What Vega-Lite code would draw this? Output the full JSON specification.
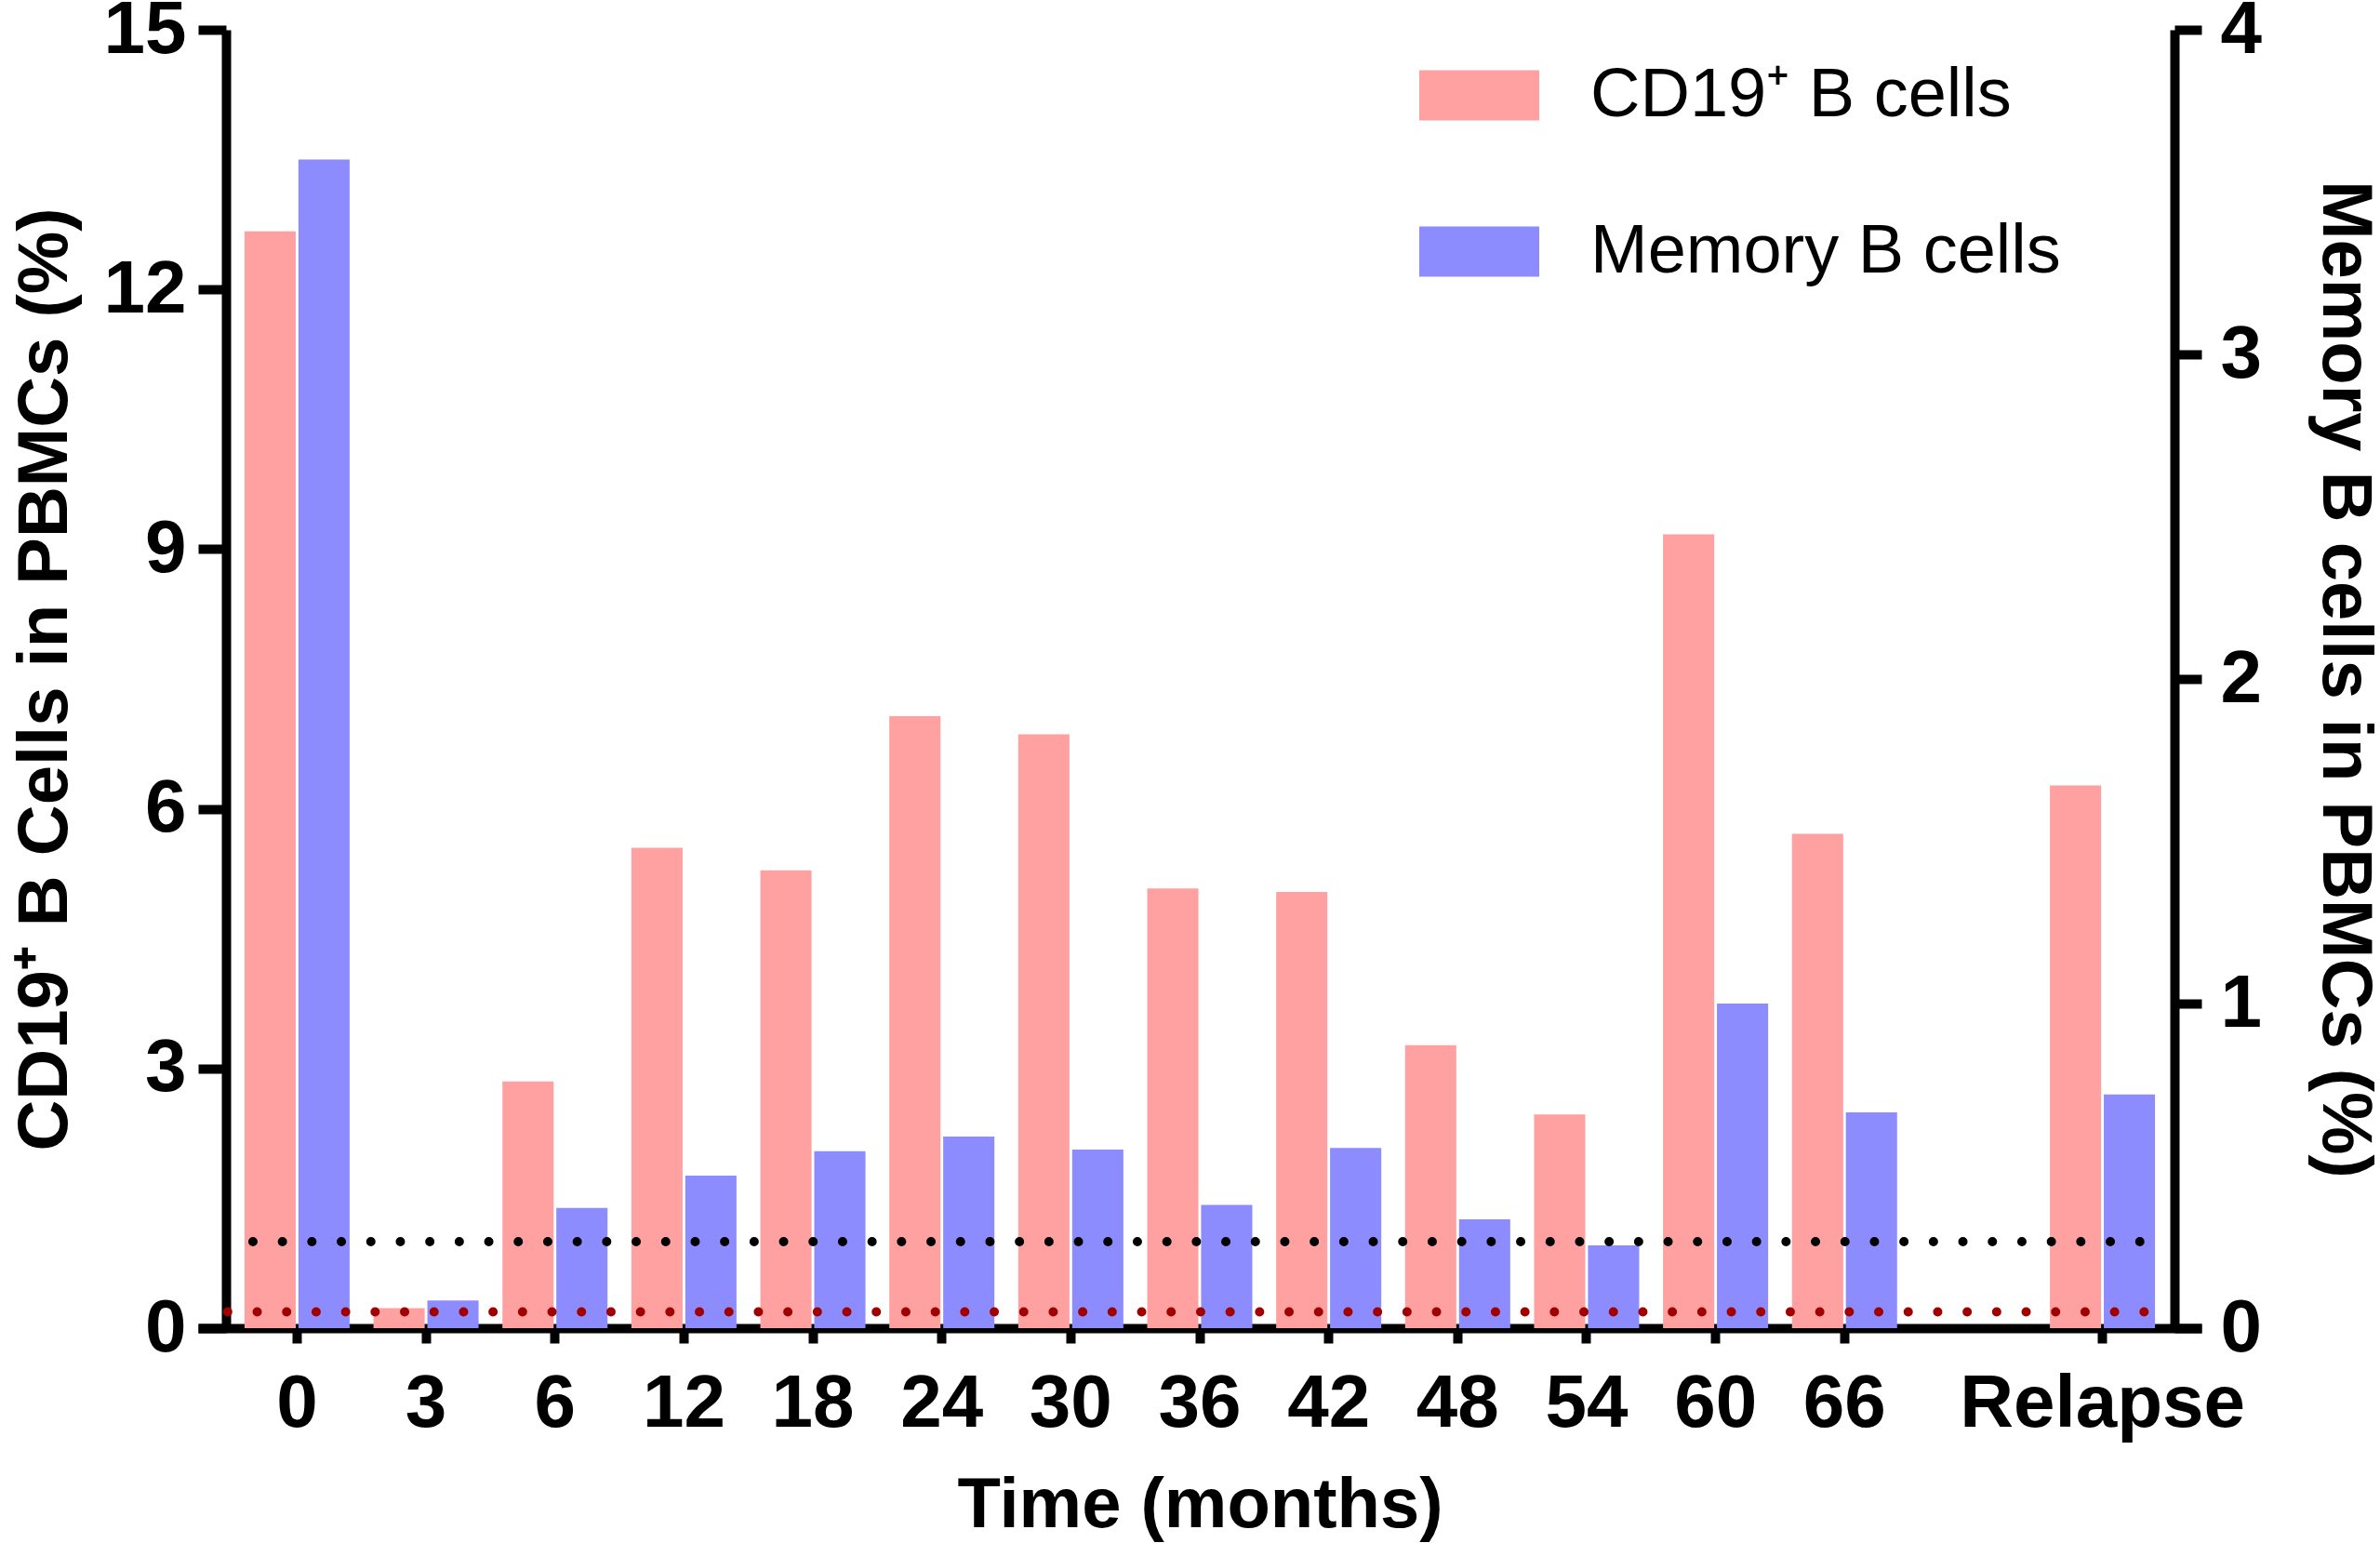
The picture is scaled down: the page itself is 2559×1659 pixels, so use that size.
{
  "$schema": "https://vega.github.io/schema/vega-lite/v6.json",
  "width": 2154,
  "height": 1396,
  "autosize": "none",
  "padding": {"left": 213, "top": 32, "right": 192, "bottom": 231},
  "background": "white",
  "data": {
    "values": [
      {"time": "0", "series": "CD19⁺ B cells", "value": 12.67},
      {"time": "3", "series": "CD19⁺ B cells", "value": 0.23},
      {"time": "6", "series": "CD19⁺ B cells", "value": 2.85},
      {"time": "12", "series": "CD19⁺ B cells", "value": 5.55},
      {"time": "18", "series": "CD19⁺ B cells", "value": 5.29},
      {"time": "24", "series": "CD19⁺ B cells", "value": 7.07},
      {"time": "30", "series": "CD19⁺ B cells", "value": 6.86},
      {"time": "36", "series": "CD19⁺ B cells", "value": 5.08},
      {"time": "42", "series": "CD19⁺ B cells", "value": 5.04},
      {"time": "48", "series": "CD19⁺ B cells", "value": 3.27},
      {"time": "54", "series": "CD19⁺ B cells", "value": 2.47},
      {"time": "60", "series": "CD19⁺ B cells", "value": 9.17},
      {"time": "66", "series": "CD19⁺ B cells", "value": 5.71},
      {"time": "Relapse", "series": "CD19⁺ B cells", "value": 6.27},
      {"time": "0", "series": "Memory B cells", "value": 3.6},
      {"time": "3", "series": "Memory B cells", "value": 0.085},
      {"time": "6", "series": "Memory B cells", "value": 0.37},
      {"time": "12", "series": "Memory B cells", "value": 0.47},
      {"time": "18", "series": "Memory B cells", "value": 0.545},
      {"time": "24", "series": "Memory B cells", "value": 0.59},
      {"time": "30", "series": "Memory B cells", "value": 0.55},
      {"time": "36", "series": "Memory B cells", "value": 0.38},
      {"time": "42", "series": "Memory B cells", "value": 0.555},
      {"time": "48", "series": "Memory B cells", "value": 0.335},
      {"time": "54", "series": "Memory B cells", "value": 0.255},
      {"time": "60", "series": "Memory B cells", "value": 1.0},
      {"time": "66", "series": "Memory B cells", "value": 0.665},
      {"time": "Relapse", "series": "Memory B cells", "value": 0.72}
    ]
  },
  "encoding": {
    "x": {
      "field": "time",
      "type": "nominal",
      "sort": null,
      "scale": {
        "domain": ["0", "3", "6", "12", "18", "24", "30", "36", "42", "48", "54", "60", "66", " ", "Relapse"],
        "paddingInner": 0.185,
        "paddingOuter": 0.36
      },
      "axis": {
        "values": ["0", "3", "6", "12", "18", "24", "30", "36", "42", "48", "54", "60", "66", "Relapse"],
        "labelAngle": 0,
        "labelLimit": 0,
        "tickSize": 16,
        "labelPadding": 26,
        "title": "Time (months)",
        "titlePadding": 32
      }
    }
  },
  "layer": [
    {
      "transform": [{"filter": "datum.series === 'CD19⁺ B cells'"}],
      "mark": {"type": "bar"},
      "encoding": {
        "xOffset": {
          "field": "series",
          "scale": {"domain": ["CD19⁺ B cells", "Memory B cells"], "paddingInner": 0.05}
        },
        "y": {
          "field": "value",
          "type": "quantitative",
          "scale": {"domain": [0, 15], "nice": false},
          "axis": {
            "orient": "left",
            "values": [0, 3, 6, 9, 12, 15],
            "offset": -30,
            "tickSize": 30,
            "labelPadding": 13,
            "title": "CD19⁺ B Cells in PBMCs (%)",
            "titlePadding": 24
          }
        },
        "color": {
          "field": "series",
          "type": "nominal",
          "scale": {"domain": ["CD19⁺ B cells", "Memory B cells"], "range": ["#FFA1A1", "#8C8CFF"]},
          "legend": {
            "orient": "none",
            "legendX": 1313,
            "legendY": 6,
            "title": null,
            "symbolType": "M-1,-0.42H1V0.42H-1Z",
            "symbolSize": 16641,
            "symbolStrokeWidth": 0,
            "symbolOpacity": 1,
            "labelFont": "Liberation Sans",
            "labelFontSize": 74,
            "labelFontWeight": "normal",
            "labelColor": "black",
            "labelLimit": 0,
            "labelOffset": 55,
            "rowPadding": 66,
            "padding": 0
          }
        }
      }
    },
    {
      "transform": [{"filter": "datum.series === 'Memory B cells'"}],
      "mark": {"type": "bar"},
      "encoding": {
        "xOffset": {
          "field": "series",
          "scale": {"domain": ["CD19⁺ B cells", "Memory B cells"], "paddingInner": 0.05}
        },
        "y": {
          "field": "value",
          "type": "quantitative",
          "scale": {"domain": [0, 4], "nice": false},
          "axis": {
            "orient": "right",
            "values": [0, 1, 2, 3, 4],
            "offset": -29,
            "tickSize": 29,
            "labelPadding": 20,
            "title": "Memory B cells in PBMCs (%)",
            "titlePadding": 50
          }
        },
        "color": {"field": "series", "type": "nominal"}
      }
    },
    {
      "data": {"values": [{"threshold": 1}]},
      "mark": {"type": "rule", "color": "black", "strokeWidth": 10, "strokeCap": "round", "strokeDash": [0, 31.7]},
      "encoding": {
        "x": {"datum": "0", "type": "nominal", "bandPosition": 0.08},
        "x2": {"datum": "Relapse", "bandPosition": 1},
        "y": {"field": "threshold", "type": "quantitative", "scale": {"domain": [0, 15], "nice": false}, "axis": null}
      }
    },
    {
      "data": {"values": [{"threshold": 0.05}]},
      "mark": {"type": "rule", "color": "#A00000", "strokeWidth": 10, "strokeCap": "round", "strokeDash": [0, 31.7]},
      "encoding": {
        "x": {"datum": "0", "type": "nominal", "bandPosition": -0.16},
        "x2": {"datum": "Relapse", "bandPosition": 1},
        "y": {"field": "threshold", "type": "quantitative", "scale": {"domain": [0, 4], "nice": false}, "axis": null}
      }
    }
  ],
  "resolve": {"scale": {"y": "independent"}},
  "config": {
    "view": {"stroke": null},
    "axis": {
      "grid": false,
      "domainColor": "black",
      "domainWidth": 10,
      "tickColor": "black",
      "tickWidth": 10,
      "labelFont": "Liberation Sans",
      "labelFontSize": 80,
      "labelFontWeight": "bold",
      "labelColor": "black",
      "titleFont": "Liberation Sans",
      "titleFontSize": 76,
      "titleFontWeight": "bold",
      "titleColor": "black"
    }
  }
}
